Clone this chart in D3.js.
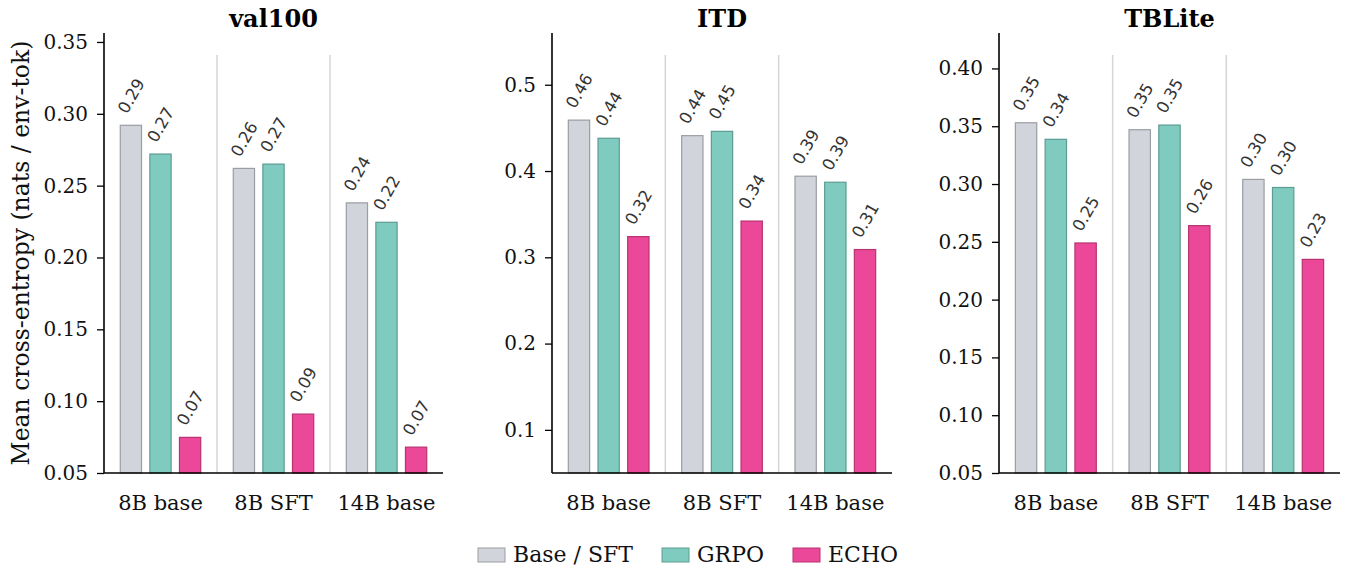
<!DOCTYPE html>
<html>
<head>
<meta charset="utf-8">
<script src="https://cdn.jsdelivr.net/npm/d3@7"></script>
<style>
  html, body { margin: 0; padding: 0; background: #fff; }
  svg { display: block; }
</style>
</head>
<body>
<svg id="chart" width="1347" height="567"></svg>
<script>
// ---------------- data ----------------
const panelTitles = ["val100", "ITD", "TBLite"];
const categories = ["8B base", "8B SFT", "14B base"];
const seriesNames = ["Base / SFT", "GRPO", "ECHO"];

const val100Base = [0.292, 0.262, 0.238];
const val100GRPO = [0.272, 0.265, 0.2245];
const val100ECHO = [0.0748, 0.091, 0.068];

const itdBase = [0.459, 0.441, 0.394];
const itdGRPO = [0.438, 0.446, 0.387];
const itdECHO = [0.324, 0.342, 0.309];

const tbliteBase = [0.353, 0.347, 0.304];
const tbliteGRPO = [0.3387, 0.351, 0.297];
const tbliteECHO = [0.249, 0.264, 0.2348];

const val100Ticks = [0.05, 0.10, 0.15, 0.20, 0.25, 0.30, 0.35];
const itdTicks = [0.1, 0.2, 0.3, 0.4, 0.5];
const tbliteTicks = [0.05, 0.10, 0.15, 0.20, 0.25, 0.30, 0.35, 0.40];
const tickDecimals = [2, 1, 2];

const yLabel = "Mean cross-entropy (nats / env-tok)";

// ---------------- style ----------------
const fills = ["#d1d5db", "#80cbc0", "#ec4899"];
const strokes = ["#9a9da2", "#5c9c92", "#b8336f"];
const serif = "'DejaVu Serif', serif";
const sans = "'DejaVu Sans', sans-serif";

const panelData = [
  [val100Base, val100GRPO, val100ECHO],
  [itdBase, itdGRPO, itdECHO],
  [tbliteBase, tbliteGRPO, tbliteECHO]
];
const panelTicks = [val100Ticks, itdTicks, tbliteTicks];

const plotX = [[104, 443], [552, 892], [999, 1340]];
const plotTop = 33, plotBottom = 473;

const svg = d3.select("#chart");

panelTitles.forEach((title, p) => {
  const series = panelData[p];
  const maxV = d3.max(series.flat());
  const y = d3.scaleLinear().domain([0.05, maxV * 1.22]).range([plotBottom, plotTop]);
  const x0 = d3.scaleBand().domain(categories).range(plotX[p]).paddingInner(0).paddingOuter(0);
  const bw = x0.bandwidth();
  const x1 = d3.scaleBand().domain(seriesNames)
    .range([-0.356 * bw, 0.356 * bw]).paddingInner(0.282).paddingOuter(0);

  const g = svg.append("g");

  // separators between groups
  categories.slice(1).forEach(c => {
    g.append("line")
      .attr("x1", x0(c)).attr("x2", x0(c))
      .attr("y1", 55).attr("y2", plotBottom)
      .attr("stroke", "#d3d6db").attr("stroke-width", 1.5);
  });

  // bars
  categories.forEach((c, ci) => {
    const cx = x0(c) + bw / 2;
    seriesNames.forEach((s, si) => {
      const v = series[si][ci];
      const bx = cx + x1(s);
      const by = y(v);
      g.append("rect")
        .attr("x", bx).attr("y", by)
        .attr("width", x1.bandwidth()).attr("height", plotBottom - by)
        .attr("fill", fills[si]).attr("stroke", strokes[si]).attr("stroke-width", 1.2);
      const bcx = bx + x1.bandwidth() / 2;
      g.append("text")
        .attr("transform", `translate(${bcx - 4},${by - 10.5}) rotate(-60)`)
        .attr("font-family", sans).attr("font-size", 16.5).attr("fill", "#333")
        .text(v.toFixed(2));
    });
  });

  // y axis
  const yAxis = d3.axisLeft(y).tickValues(panelTicks[p])
    .tickFormat(d3.format("." + tickDecimals[p] + "f"))
    .tickSize(7).tickPadding(9);
  const ya = g.append("g").attr("transform", `translate(${plotX[p][0]},0)`).call(yAxis);
  ya.select(".domain").remove();
  ya.selectAll(".tick line").attr("stroke", "#000").attr("stroke-width", 1.3);
  ya.selectAll(".tick text").attr("font-family", serif).attr("font-size", 20).attr("fill", "#111");
  g.append("line").attr("x1", plotX[p][0]).attr("x2", plotX[p][0])
    .attr("y1", plotTop).attr("y2", plotBottom).attr("stroke", "#000").attr("stroke-width", 1.6);

  // x axis
  const xAxis = d3.axisBottom(x0).tickSize(0).tickPadding(22);
  const xa = g.append("g").attr("transform", `translate(0,${plotBottom})`).call(xAxis);
  xa.select(".domain").remove();
  xa.selectAll(".tick text").attr("font-family", serif).attr("font-size", 21).attr("fill", "#111");
  g.append("line").attr("x1", plotX[p][0]).attr("x2", plotX[p][1])
    .attr("y1", plotBottom).attr("y2", plotBottom).attr("stroke", "#000").attr("stroke-width", 1.6);

  // title
  g.append("text")
    .attr("x", (plotX[p][0] + plotX[p][1]) / 2).attr("y", 27)
    .attr("text-anchor", "middle")
    .attr("font-family", serif).attr("font-weight", "bold").attr("font-size", 24)
    .attr("fill", "#000").text(title);
});

// y label
svg.append("text")
  .attr("transform", `translate(29,${(plotTop + plotBottom) / 2}) rotate(-90)`)
  .attr("text-anchor", "middle")
  .attr("font-family", serif).attr("font-size", 23.5).attr("fill", "#111")
  .text(yLabel);

// legend
const legend = svg.append("g");
let lx = 478;
seriesNames.forEach((s, i) => {
  legend.append("rect").attr("x", lx).attr("y", 548).attr("width", 27).attr("height", 14)
    .attr("fill", fills[i]).attr("stroke", strokes[i]).attr("stroke-width", 1);
  const t = legend.append("text").attr("x", lx + 35).attr("y", 562)
    .attr("font-family", serif).attr("font-size", 22).attr("fill", "#111").text(s);
  lx += 35 + t.node().getComputedTextLength() + 29;
});
</script>
</body>
</html>
